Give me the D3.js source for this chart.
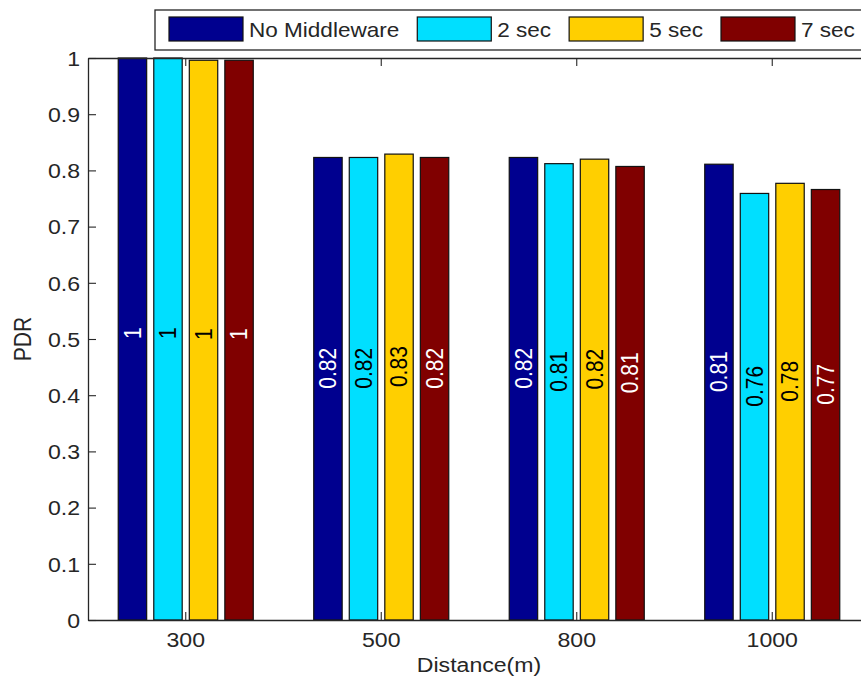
<!DOCTYPE html>
<html>
<head>
<meta charset="utf-8">
<script src="https://cdn.jsdelivr.net/npm/d3@7"></script>
<style>
  html, body { margin: 0; padding: 0; background: #fff; }
  svg { display: block; overflow: hidden; }
  text { font-family: "Liberation Sans", Arial, sans-serif; fill: #262626; }
</style>
</head>
<body>
<svg id="chart" width="861" height="677"></svg>
<script>
// Packet delivery ratio per distance, one series per middleware setting
const categories = ['300', '500', '800', '1000'];
const seriesNames = ['No Middleware', '2 sec', '5 sec', '7 sec'];
const noMiddleware = [1.000, 0.823, 0.823, 0.811];
const sec2 = [1.000, 0.823, 0.812, 0.759];
const sec5 = [0.996, 0.829, 0.820, 0.777];
const sec7 = [0.996, 0.823, 0.807, 0.766];
const yTicks = [0, 0.1, 0.2, 0.3, 0.4, 0.5, 0.6, 0.7, 0.8, 0.9, 1];
const yTickLabels = ['0', '0.1', '0.2', '0.3', '0.4', '0.5', '0.6', '0.7', '0.8', '0.9', '1'];

const seriesValues = [noMiddleware, sec2, sec5, sec7];
const seriesColors = ['#00008F', '#00DFFF', '#FFCF00', '#800000'];
const labelColors = ['#ffffff', '#000000', '#000000', '#ffffff'];

const FS = 21;      // font size
const SX = 1.1;     // horizontal glyph stretch
const ink = '#262626';

const svg = d3.select('#chart');
const plotLeft = 88, plotRight = 870, plotTop = 58, plotBottom = 620;

const x = d3.scaleBand().domain(categories).range([plotLeft, plotRight]).padding(0);
const groupWidth = x.bandwidth() * 0.727;
const xInner = d3.scaleBand().domain(seriesNames)
  .range([-groupWidth / 2, groupWidth / 2])
  .paddingInner(0.2).paddingOuter(0.1);
const y = d3.scaleLinear().domain([0, 1]).range([plotBottom, plotTop]);

const fmt = v => String(Math.round(v * 100) / 100);

// Bars
const groups = svg.append('g').selectAll('g')
  .data(categories)
  .join('g')
  .attr('transform', d => `translate(${x(d) + x.bandwidth() / 2},0)`);

const rows = categories.map((c, ci) => seriesNames.map((s, si) => ({
  c, s, si, v: seriesValues[si][ci]
})));

groups.each(function (c, ci) {
  const g = d3.select(this);
  g.selectAll('rect')
    .data(rows[ci])
    .join('rect')
    .attr('x', d => xInner(d.s))
    .attr('width', xInner.bandwidth())
    .attr('y', d => y(d.v))
    .attr('height', d => y(0) - y(d.v))
    .attr('fill', d => seriesColors[d.si])
    .attr('stroke', '#111')
    .attr('stroke-width', 1.2);

  g.selectAll('text.val')
    .data(rows[ci])
    .join('text')
    .attr('class', 'val')
    .attr('transform', d => `translate(${xInner(d.s) + xInner.bandwidth() / 2},${y(d.v / 2)}) scale(${SX},1) rotate(-90)`)
    .attr('dy', '0.35em')
    .attr('text-anchor', 'start')
    .style('font-size', FS + 'px')
    .style('fill', d => labelColors[d.si])
    .text(d => fmt(d.v));
});

// Axes (box on all four sides, ticks pointing inward)
const axisL = svg.append('g').attr('transform', `translate(${plotLeft},0)`)
  .call(d3.axisLeft(y).tickValues(yTicks).tickFormat((d, i) => yTickLabels[i])
    .tickSizeInner(-8).tickSizeOuter(0));
axisL.selectAll('text')
  .attr('x', null).attr('dy', '0.35em')
  .attr('transform', `translate(-8,0) scale(${SX},1)`);

const axisB = svg.append('g').attr('transform', `translate(0,${plotBottom})`)
  .call(d3.axisBottom(x).tickSizeInner(-8).tickSizeOuter(0).tickPadding(12));

const axisT = svg.append('g').attr('transform', `translate(0,${plotTop})`)
  .call(d3.axisTop(x).tickSizeInner(-8).tickSizeOuter(0).tickFormat(''));

const axisR = svg.append('g').attr('transform', `translate(${plotRight},0)`)
  .call(d3.axisRight(y).tickValues(yTicks).tickSizeInner(-8).tickSizeOuter(0).tickFormat(''));

[axisL, axisB, axisT, axisR].forEach(a => {
  a.select('.domain').attr('stroke', ink).attr('stroke-width', 1.3);
  a.selectAll('.tick line').attr('stroke', ink).attr('stroke-width', 1.1);
  a.selectAll('text').style('font-size', FS + 'px').style('fill', ink).attr('fill', null);
});
axisB.selectAll('text').attr('transform', `scale(${SX},1)`);

// Axis titles
svg.append('text')
  .attr('transform', `translate(${(plotLeft + plotRight) / 2},672) scale(${SX},1)`)
  .attr('text-anchor', 'middle')
  .style('font-size', FS + 'px')
  .text('Distance(m)');

svg.append('text')
  .attr('transform', `translate(31,${(plotTop + plotBottom) / 2}) scale(${SX},1) rotate(-90)`)
  .attr('text-anchor', 'middle')
  .style('font-size', FS + 'px')
  .text('PDR');

// Legend
const legend = svg.append('g');
legend.append('rect')
  .attr('x', 155).attr('y', 10).attr('width', 740).attr('height', 40)
  .attr('fill', '#fff').attr('stroke', ink).attr('stroke-width', 1.3);

let lx = 169;
seriesNames.forEach((name, i) => {
  legend.append('rect')
    .attr('x', lx).attr('y', 17).attr('width', 74).attr('height', 24)
    .attr('fill', seriesColors[i]).attr('stroke', '#111').attr('stroke-width', 1.2);
  const t = legend.append('text')
    .attr('transform', `translate(${lx + 80},30) scale(${SX},1)`)
    .attr('dy', '0.35em')
    .style('font-size', '20.5px')
    .text(name);
  const w = t.node().getComputedTextLength() * SX;
  lx = lx + 80 + w + 18;
});
</script>
</body>
</html>
